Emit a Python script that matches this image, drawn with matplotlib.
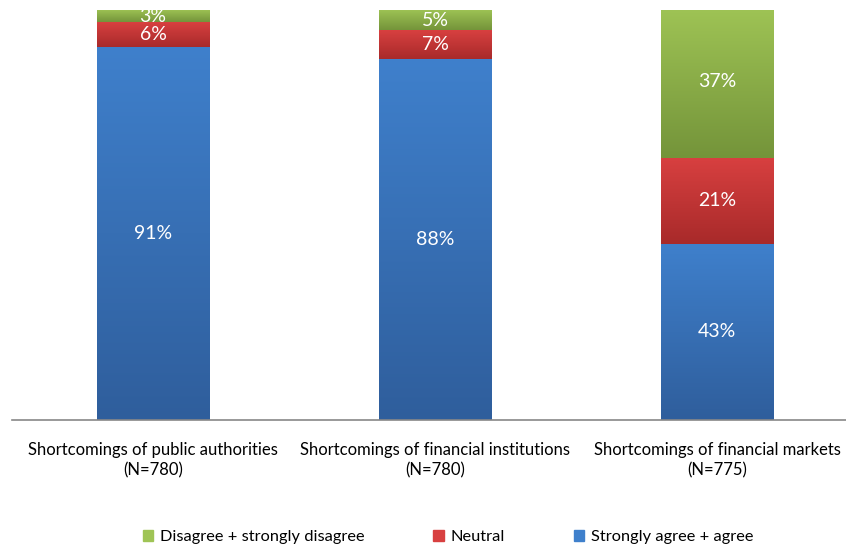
import numpy as np
import matplotlib
matplotlib.use('Agg')
import matplotlib.pyplot as plt
from matplotlib import colors as mcolors
from matplotlib.patches import Patch

# survey answers per item, in percent
categories = ['Shortcomings of public authorities\n(N=780)',
              'Shortcomings of financial institutions\n(N=780)',
              'Shortcomings of financial markets\n(N=775)']
agree = [91, 88, 43]
neutral = [6, 7, 21]
disagree = [3, 5, 37]
series_names = ['Disagree + strongly disagree', 'Neutral', 'Strongly agree + agree']

# (top, bottom) colours of the vertical gradient in each segment
blue = ('#3f80cc', '#2f5e9c')
red = ('#d84040', '#a82a2a')
green = ('#9fc455', '#74943a')

plt.rcParams['font.family'] = ['Lato', 'DejaVu Sans']

fig = plt.figure(figsize=(8.46, 5.49), dpi=100)
ax = fig.add_axes([12 / 846, 129 / 549, 834 / 846, 410 / 549])

x = np.arange(len(categories))
width = 0.4
b1 = ax.bar(x, agree, width, color=blue[0])
b2 = ax.bar(x, neutral, width, bottom=agree, color=red[0])
bottom3 = np.array(agree) + np.array(neutral)
b3 = ax.bar(x, disagree, width, bottom=bottom3, color=green[0])


def shade(bars, cols):
    # paint each bar with a top-to-bottom gradient over its own extent
    cmap = mcolors.LinearSegmentedColormap.from_list('g', [cols[1], cols[0]])
    grad = np.linspace(0, 1, 256).reshape(-1, 1)
    for p in bars:
        x0, y0 = p.get_x(), p.get_y()
        w, h = p.get_width(), p.get_height()
        ax.imshow(grad, cmap=cmap, origin='lower', aspect='auto',
                  extent=[x0, x0 + w, y0, y0 + h], zorder=p.get_zorder())


shade(b1, blue)
shade(b2, red)
shade(b3, green)

# value labels in the middle of each segment
for bars, vals, bots in [(b1, agree, [0, 0, 0]), (b2, neutral, agree), (b3, disagree, bottom3)]:
    for xi, v, bt in zip(x, vals, bots):
        ax.text(xi, bt + v / 2, '%d%%' % v, ha='center', va='center',
                color='white', fontsize=14, zorder=5)

ax.set_xlim(-0.5, -0.5 + 834 / 282)
ax.set_ylim(0, 100)
ax.set_yticks([])
ax.set_xticks(x)
ax.set_xticklabels(categories, fontsize=12, linespacing=1.3)
ax.tick_params(axis='x', length=0, pad=16)
for s in ['top', 'right', 'left']:
    ax.spines[s].set_visible(False)
ax.spines['bottom'].set_color('#888888')
ax.spines['bottom'].set_linewidth(1.2)

handles = [Patch(color=green[0]), Patch(color=red[0]), Patch(color=blue[0])]
fig.legend(handles, series_names, loc='center', bbox_to_anchor=(448 / 846, 1 - 537 / 549),
           ncol=3, frameon=False, fontsize=11.8, handlelength=0.65, handleheight=0.65,
           handletextpad=0.4, columnspacing=4.2)

fig.savefig('out.png', dpi=100)
